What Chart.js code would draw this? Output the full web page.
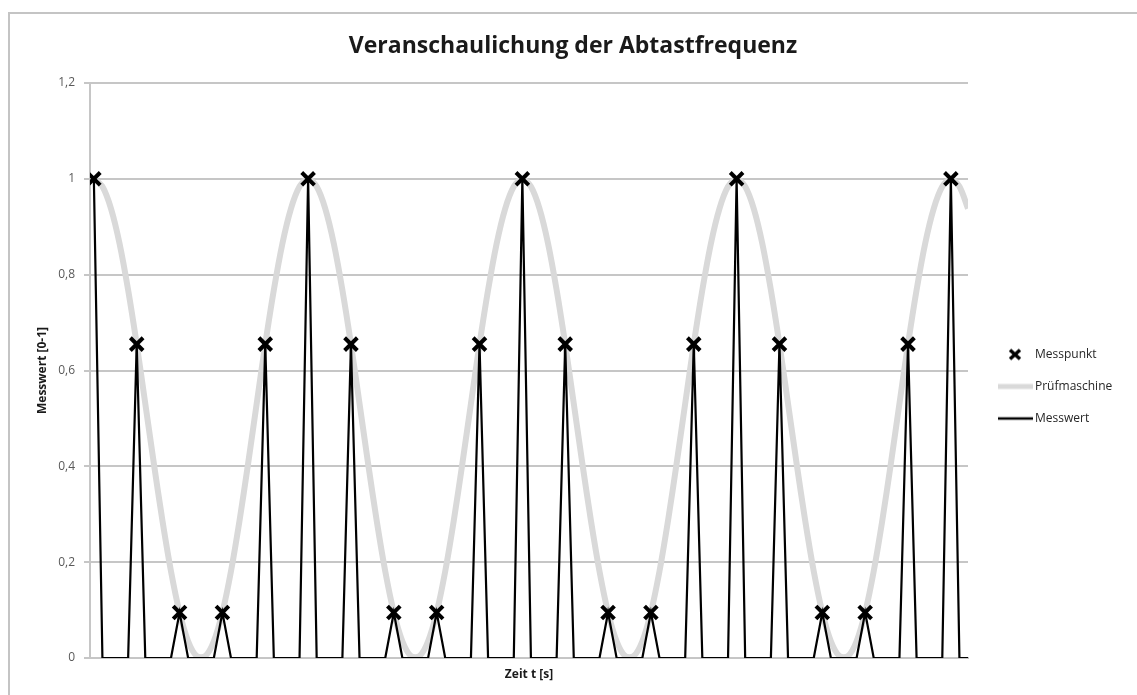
<!DOCTYPE html>
<html lang="de">
<head>
<meta charset="utf-8">
<title>Veranschaulichung der Abtastfrequenz</title>
<script src="https://cdn.jsdelivr.net/npm/chart.js@4.4.1/dist/chart.umd.min.js"></script>
<style>
  html, body { margin: 0; padding: 0; background: #fff; overflow: hidden; }
  #rahmen {
    position: absolute; left: 8px; top: 12px; width: 1200px; height: 800px;
    border: 2px solid #c4c4c4; box-sizing: border-box;
  }
  #diagramm { position: absolute; left: 0; top: 0; }
</style>
</head>
<body>
<div id="rahmen"></div>
<canvas id="diagramm" width="1137" height="695"></canvas>
<script>
// Feinschritte zwischen zwei Abtastungen
const abtastSchritt = 5;

// Verlauf der Prüfmaschine (fein aufgelöst, 103 Stützstellen)
const pruefmaschine = [
  1, 0.984, 0.938, 0.865, 0.768, 0.655, 0.531, 0.406, 0.287, 0.181,
  0.095, 0.035, 0.004, 0.004, 0.035, 0.095, 0.181, 0.287, 0.406, 0.531,
  0.655, 0.768, 0.865, 0.938, 0.984,
  1, 0.984, 0.938, 0.865, 0.768, 0.655, 0.531, 0.406, 0.287, 0.181,
  0.095, 0.035, 0.004, 0.004, 0.035, 0.095, 0.181, 0.287, 0.406, 0.531,
  0.655, 0.768, 0.865, 0.938, 0.984,
  1, 0.984, 0.938, 0.865, 0.768, 0.655, 0.531, 0.406, 0.287, 0.181,
  0.095, 0.035, 0.004, 0.004, 0.035, 0.095, 0.181, 0.287, 0.406, 0.531,
  0.655, 0.768, 0.865, 0.938, 0.984,
  1, 0.984, 0.938, 0.865, 0.768, 0.655, 0.531, 0.406, 0.287, 0.181,
  0.095, 0.035, 0.004, 0.004, 0.035, 0.095, 0.181, 0.287, 0.406, 0.531,
  0.655, 0.768, 0.865, 0.938, 0.984,
  1, 0.984, 0.938
];

// Messwert: nur zum Abtastzeitpunkt vorhanden, dazwischen 0
const messwert = [
  1, 0, 0, 0, 0,  0.655, 0, 0, 0, 0,  0.095, 0, 0, 0, 0,  0.095, 0, 0, 0, 0,  0.655, 0, 0, 0, 0,
  1, 0, 0, 0, 0,  0.655, 0, 0, 0, 0,  0.095, 0, 0, 0, 0,  0.095, 0, 0, 0, 0,  0.655, 0, 0, 0, 0,
  1, 0, 0, 0, 0,  0.655, 0, 0, 0, 0,  0.095, 0, 0, 0, 0,  0.095, 0, 0, 0, 0,  0.655, 0, 0, 0, 0,
  1, 0, 0, 0, 0,  0.655, 0, 0, 0, 0,  0.095, 0, 0, 0, 0,  0.095, 0, 0, 0, 0,  0.655, 0, 0, 0, 0,
  1, 0, 0
];

// Abgetastete Messpunkte (eine Abtastung je 5 Feinschritte)
const messpunkt = [
  1, 0.655, 0.095, 0.095, 0.655,
  1, 0.655, 0.095, 0.095, 0.655,
  1, 0.655, 0.095, 0.095, 0.655,
  1, 0.655, 0.095, 0.095, 0.655,
  1
];

// Beschriftung der y-Achse (deutsches Dezimalkomma)
const yBeschriftung = ['0', '0,2', '0,4', '0,6', '0,8', '1', '1,2'];

// Zeitachse: Feinschritte (ohne sichtbare Beschriftung)
const zeit = pruefmaschine.map((_, i) => String(i));

const schrift = "'Open Sans', 'Noto Sans', sans-serif";

// Legendensymbole
function symbolLinie(farbe, staerke) {
  const c = document.createElement('canvas');
  c.width = 35; c.height = 8;
  const g = c.getContext('2d');
  g.strokeStyle = farbe; g.lineWidth = staerke;
  g.beginPath(); g.moveTo(0, 4); g.lineTo(35, 4); g.stroke();
  return c;
}
function symbolKreuz() {
  const c = document.createElement('canvas');
  c.width = 16; c.height = 14;
  const g = c.getContext('2d');
  g.strokeStyle = '#000'; g.lineWidth = 3.5;
  g.beginPath();
  g.moveTo(3, 2.5); g.lineTo(13, 11.5);
  g.moveTo(13, 2.5); g.lineTo(3, 11.5);
  g.stroke();
  return c;
}
const legendenSymbole = [symbolKreuz(), symbolLinie('#d9d9d9', 5), symbolLinie('#000', 2.5)];

// Legende in den rechten Randbereich setzen, Titel über die volle Breite zentrieren
const randLayout = {
  id: 'randLayout',
  afterLayout(chart) {
    const l = chart.legend;
    if (l) {
      l.left += 13;
      l.right = chart.width;
      l.top += 16; l.bottom += 16;
    }
    const t = chart.titleBlock;
    if (t) {
      t.left = 0;
      t.right = chart.width + 9;
    }
  }
};

new Chart(document.getElementById('diagramm'), {
  type: 'line',
  data: {
    labels: zeit,
    datasets: [
      {
        label: 'Messpunkt',
        data: messpunkt.map((v, k) => ({ x: zeit[k * abtastSchritt], y: v })),
        showLine: false,
        pointStyle: 'crossRot',
        pointRadius: 9,
        pointHoverRadius: 9,
        pointBorderWidth: 4,
        pointBorderColor: '#000',
        pointBackgroundColor: '#000',
        borderColor: '#000',
        order: 0
      },
      {
        label: 'Prüfmaschine',
        data: pruefmaschine,
        borderColor: '#d9d9d9',
        borderWidth: 6,
        pointRadius: 0,
        tension: 0.3,
        fill: false,
        order: 2
      },
      {
        label: 'Messwert',
        data: messwert,
        borderColor: '#000',
        borderWidth: 2.2,
        pointRadius: 0,
        tension: 0,
        fill: false,
        order: 1
      }
    ]
  },
  options: {
    responsive: false,
    animation: false,
    devicePixelRatio: 1,
    layout: { padding: { left: 0, right: 69, top: 0, bottom: 0 } },
    plugins: {
      tooltip: { enabled: false },
      title: {
        display: true,
        text: 'Veranschaulichung der Abtastfrequenz',
        color: '#1a1a1a',
        font: { family: schrift, size: 23, weight: 'bold', lineHeight: 1.2 },
        padding: { top: 33, bottom: 22.4 }
      },
      legend: {
        position: 'right',
        fullSize: false,
        maxWidth: 100,
        labels: {
          usePointStyle: true,
          pointStyleWidth: 28,
          padding: 20,
          color: '#262626',
          font: { family: schrift, size: 12 },
          generateLabels: chart => chart.data.datasets.map((ds, i) => ({
            text: ds.label,
            pointStyle: legendenSymbole[i],
            fillStyle: 'transparent',
            strokeStyle: 'transparent',
            lineWidth: 0,
            fontColor: '#262626',
            hidden: !chart.isDatasetVisible(i),
            datasetIndex: i
          }))
        }
      }
    },
    scales: {
      x: {
        type: 'linear',
        min: -0.45,
        max: 102,
        afterFit: s => { s.height = 37; },
        ticks: { display: false },
        grid: { display: false },
        border: { display: true, color: '#c6c6c6', width: 2 },
        title: {
          display: true,
          text: 'Zeit t [s]',
          color: '#1a1a1a',
          font: { family: schrift, size: 12, weight: 'bold', lineHeight: 1.2 },
          padding: { top: 0, bottom: 12.8 }
        }
      },
      y: {
        min: 0,
        max: 1.2,
        afterFit: s => { s.width = 90; },
        ticks: {
          stepSize: 0.2,
          padding: 9,
          color: '#595959',
          font: { family: schrift, size: 12 },
          callback: (v, i) => yBeschriftung[i]
        },
        grid: { color: '#c6c6c6', lineWidth: 2, tickLength: 6, drawOnChartArea: true },
        border: { display: true, color: '#c6c6c6', width: 2 },
        title: {
          display: true,
          text: 'Messwert [0-1]',
          color: '#1a1a1a',
          font: { family: schrift, size: 12, weight: 'bold', lineHeight: 1.2 },
          padding: { top: 35.8, bottom: 0 }
        }
      }
    }
  },
  plugins: [randLayout]
});
</script>
</body>
</html>
